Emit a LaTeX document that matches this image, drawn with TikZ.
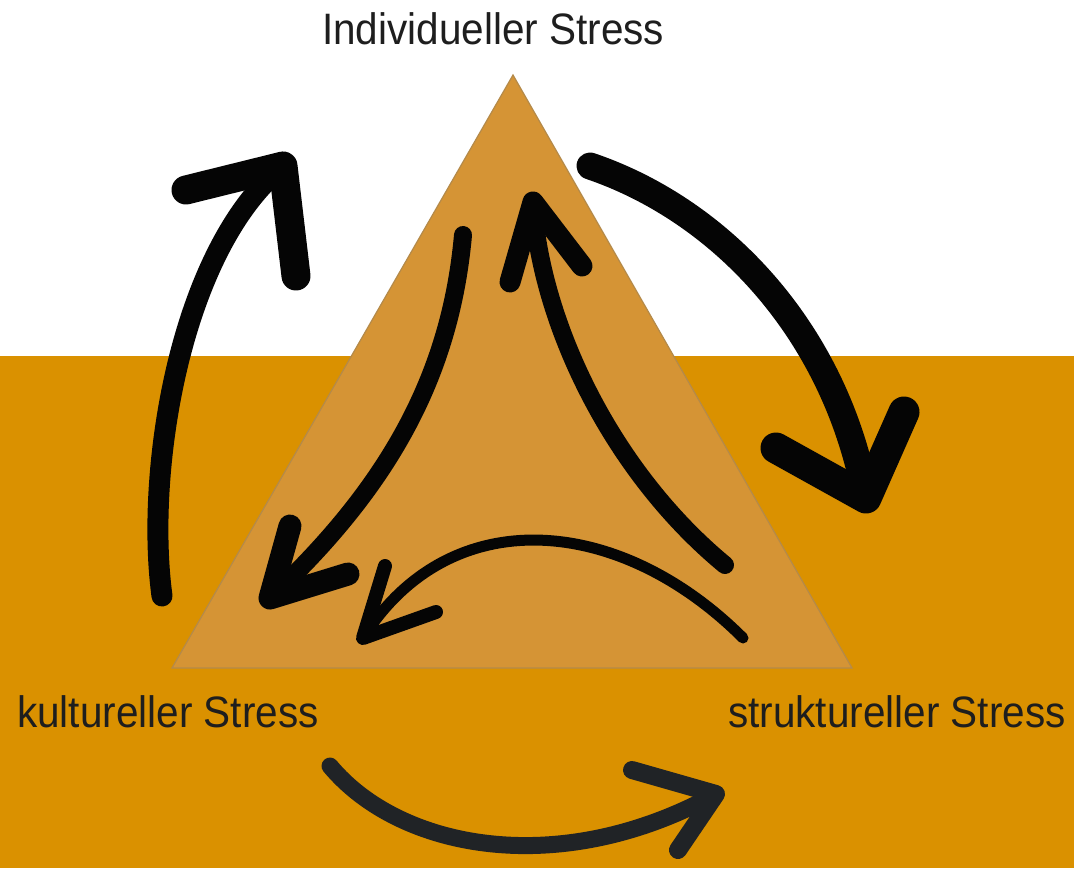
\documentclass[tikz,border=0pt]{standalone}
\usepackage{fontspec}
\setmainfont[FakeStretch=0.92]{Liberation Sans}
\definecolor{bgorange}{HTML}{DA9100}
\definecolor{trifill}{HTML}{D59435}
\definecolor{triedge}{HTML}{B48A4A}
\definecolor{inkblack}{HTML}{050505}
\definecolor{inkgray}{HTML}{202326}
\definecolor{txt}{HTML}{1E1E1E}
\begin{document}
\begin{tikzpicture}[x=1pt,y=-1pt,
  lbl/.style={font=\fontsize{44}{44}\selectfont, text=txt, inner sep=0pt, anchor=base west},
  stroke/.style={draw=inkblack, line cap=round, line join=round},
  barb/.style={draw=inkblack, line cap=round, line join=round, line width=#1},
]
\useasboundingbox (0,0) rectangle (1074,868);
\fill[white] (0,0) rectangle (1074,356);
\fill[bgorange] (0,356) rectangle (1074,868);
% triangle
\coordinate (apex) at (513,75);
\coordinate (bl) at (172,668);
\coordinate (br) at (852,668);
\filldraw[fill=trifill, draw=triedge, line width=1.2pt] (apex) -- (bl) -- (br) -- cycle;
% labels
\node[lbl] (ind) at (322,44) {Individueller Stress};
\node[lbl] (kul) at (17,727) {kultureller Stress};
\node[lbl] (str) at (728,727) {struktureller Stress};
% arrow 1: outer left, upward
\coordinate (a1s) at (162,596);
\coordinate (a1t) at (283,166);
\draw[stroke, line width=21pt] (a1s) .. controls (145,470) and (180,250) .. (a1t);
\draw[barb=29pt] (186,190) -- (a1t) -- (296,276);
% arrow 2: outer right, downward
\coordinate (a2s) at (590,166);
\coordinate (a2t) at (866,498);
\draw[stroke, line width=27pt] (a2s) .. controls (720,210) and (835,330) .. (a2t);
\draw[barb=31pt] (776,448) -- (a2t) -- (904,412);
% arrow 3: inner, apex to bottom-left
\coordinate (a3s) at (463,235);
\coordinate (a3t) at (270,598);
\draw[stroke, line width=18pt] (a3s) .. controls (450,380) and (385,490) .. (a3t);
\draw[barb=23pt] (290,526) -- (a3t) -- (348,574);
% arrow 4: inner, bottom-right to apex
\coordinate (a4s) at (725,565);
\coordinate (a4t) at (533,202);
\draw[stroke, line width=18pt] (a4s) .. controls (610,470) and (540,320) .. (a4t);
\draw[barb=21pt] (510,282) -- (a4t) -- (582,266);
% arrow 5: inner thin, bottom-right to bottom-left
\coordinate (a5s) at (743,638);
\coordinate (a5t) at (363,638);
\draw[stroke, line width=11pt] (a5s) .. controls (620,515) and (450,500) .. (a5t);
\draw[barb=14pt] (385,566) -- (a5t) -- (436,612);
% arrow 6: bottom, kultureller to struktureller
\coordinate (a6s) at (330,766);
\coordinate (a6t) at (716,794);
\draw[stroke, draw=inkgray, line width=17pt] (a6s) .. controls (400,850) and (560,880) .. (a6t);
\draw[barb=18pt, draw=inkgray] (632,770) -- (a6t) -- (678,850);
\end{tikzpicture}
\end{document}
